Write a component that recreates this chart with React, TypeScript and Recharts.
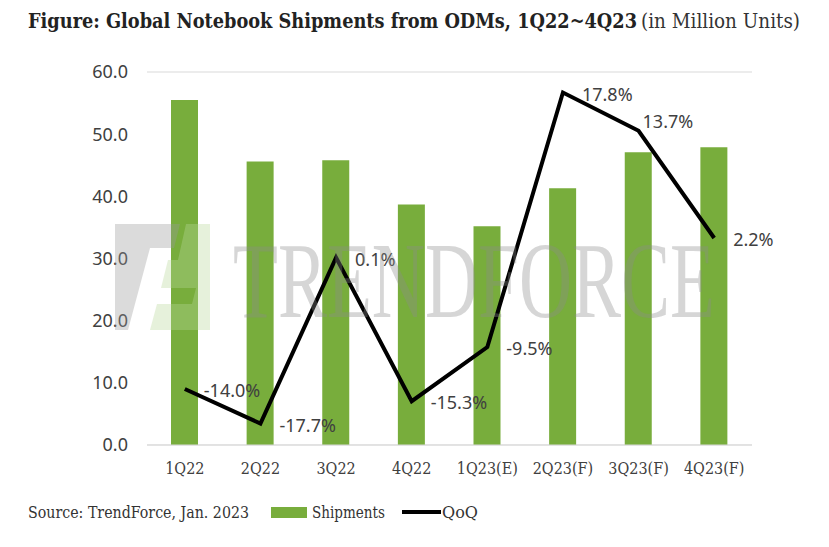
import { ComposedChart, Bar, Line, XAxis, YAxis, CartesianGrid, LabelList } from "recharts";

const quarters = ["1Q22", "2Q22", "3Q22", "4Q22", "1Q23(E)", "2Q23(F)", "3Q23(F)", "4Q23(F)"];
const shipments = [55.5, 45.6, 45.8, 38.7, 35.2, 41.3, 47.1, 47.9];
const qoq = [-14.0, -17.7, 0.1, -15.3, -9.5, 17.8, 13.7, 2.2];
const yTicks = [0, 10, 20, 30, 40, 50, 60];

const data = quarters.map((q, i) => ({ name: q, shipments: shipments[i], qoq: qoq[i] }));

const serif = "'DejaVu Serif Condensed', 'DejaVu Serif', serif";
const sans = "'Noto Sans', 'Open Sans', sans-serif";

const QoqLabel = (props: any) => {
  const { x, y, value, index } = props;
  // Excel nudged the 13.7% label up so it doesn't sit on the line
  const dx = index === 6 ? 4 : 19;
  const dy = index === 6 ? -3 : 8;
  return (
    <text x={x + dx} y={y + dy} fontSize={18} fontFamily={sans} fill="#404040">
      {value.toFixed(1) + "%"}
    </text>
  );
};

export default function App() {
  return (
    <div style={{ position: "relative", width: 813, height: 531, background: "#fff" }}>
      <svg width={813} height={40} style={{ position: "absolute", left: 0, top: 0 }}>
        <text x={20} y={20} fontFamily={serif} fontWeight="bold" fontSize={20} fill="#222"
          textLength={609} lengthAdjust="spacingAndGlyphs">
          Figure: Global Notebook Shipments from ODMs, 1Q22~4Q23
        </text>
        <text x={633} y={20} fontFamily={serif} fontSize={20} fill="#333"
          textLength={159} lengthAdjust="spacingAndGlyphs">
          (in Million Units)
        </text>
      </svg>
      <div style={{ position: "absolute", left: 0, top: 0 }}>
        <ComposedChart width={813} height={480} data={data}
          margin={{ top: 64, right: 69, left: 0, bottom: 13 }}>
          <CartesianGrid vertical={false} stroke="#d9d9d9" />
          <XAxis dataKey="name" height={30} tickLine={false} axisLine={{ stroke: "#d9d9d9" }}
            tickMargin={12} interval={0}
            tick={{ fontSize: 16, fontFamily: serif, fill: "#404040" }} />
          <YAxis yAxisId="left" width={139} domain={[0, 60]} ticks={yTicks} tickLine={false}
            axisLine={false} tickMargin={13} tickFormatter={(v: number) => v.toFixed(1)}
            tick={{ fontSize: 18, fontFamily: sans, fill: "#404040" }} />
          <YAxis yAxisId="right" orientation="right" hide domain={[-20, 20]} />
          <Bar yAxisId="left" dataKey="shipments" name="Shipments" fill="#78ad3c" barSize={27}
            isAnimationActive={false} />
          <Line yAxisId="right" dataKey="qoq" name="QoQ" stroke="#000" strokeWidth={4}
            dot={false} type="linear" isAnimationActive={false}>
            <LabelList dataKey="qoq" content={QoqLabel} />
          </Line>
        </ComposedChart>
      </div>
      <svg width={813} height={531} style={{ position: "absolute", left: 0, top: 0, pointerEvents: "none" }}>
        <g opacity={0.35}>
          <polygon points="107,216 172,216 166,240 142,240 120,322 107,322" fill="#9a9a9a" />
          <polygon points="178,216 202,216 202,322 142,322 149,296 184,296 188,280 153,280 160,252 170,252" fill="#b9d99a" />
          <text x={225} y={309} fontFamily="'Liberation Serif', serif" fontSize={108} fill="#8c8c8c"
            textLength={482} lengthAdjust="spacingAndGlyphs">TRENDFORCE</text>
        </g>
        <text x={20} y={510} fontFamily={serif} fontSize={17} fill="#333"
          textLength={221} lengthAdjust="spacingAndGlyphs">Source: TrendForce, Jan. 2023</text>
        <rect x={263} y={499} width={36} height={11} fill="#78ad3c" />
        <text x={304} y={510} fontFamily={serif} fontSize={17} fill="#333"
          textLength={73} lengthAdjust="spacingAndGlyphs">Shipments</text>
        <line x1={394} y1={504} x2={433} y2={504} stroke="#000" strokeWidth={4} />
        <text x={434} y={510} fontFamily={serif} fontSize={17} fill="#333"
          textLength={36} lengthAdjust="spacingAndGlyphs">QoQ</text>
      </svg>
    </div>
  );
}
